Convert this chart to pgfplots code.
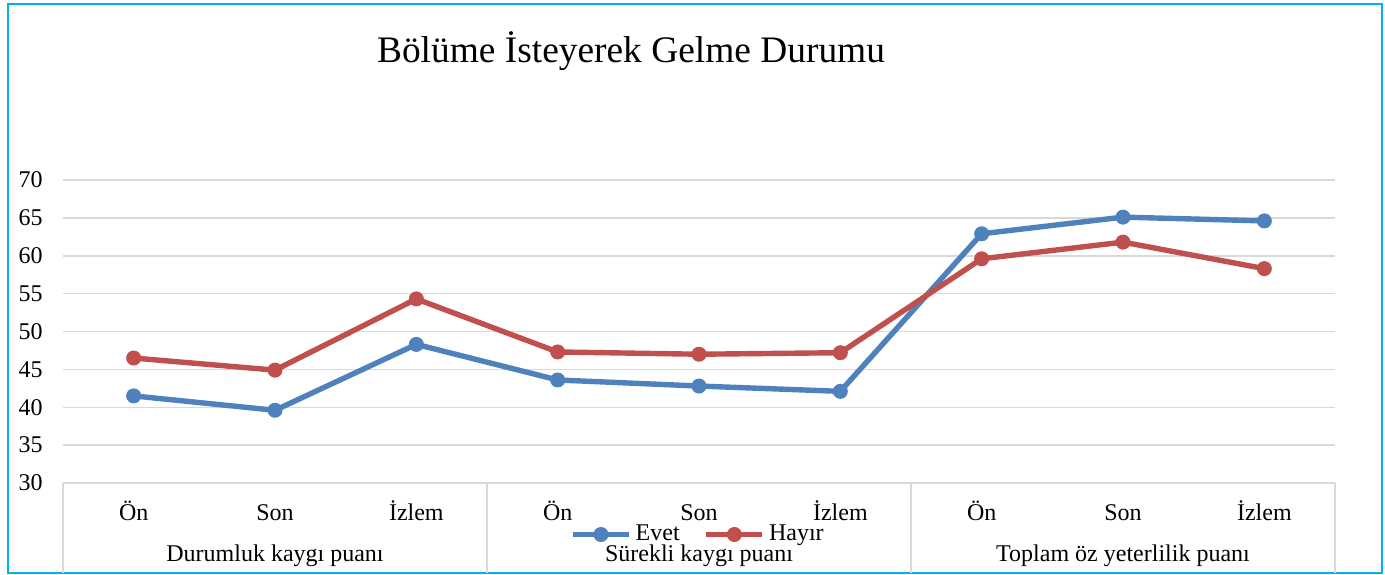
\documentclass[border=0pt]{standalone}
\usepackage{fontspec}
\setmainfont{Liberation Serif}
\usepackage{pgfplots}
\pgfplotsset{compat=1.18}
\definecolor{evet}{HTML}{4F81BD}
\definecolor{hayir}{HTML}{C0504D}
\definecolor{framec}{HTML}{00B0F0}
\definecolor{gridc}{HTML}{D9D9D9}
\begin{document}
\begin{tikzpicture}
\useasboundingbox (0,0) rectangle (692.5pt,287pt);
\draw[framec, line width=1pt] (4pt,0.75pt) rectangle (691pt,285pt);
\node[anchor=base, font=\fontsize{18.7}{21}\selectfont, inner sep=0pt] at (315.5pt,255.5pt) {Bölüme İsteyerek Gelme Durumu};
\begin{axis}[
  at={(31.5pt,45.5pt)}, anchor=south west,
  width=636pt, height=151.5pt, scale only axis,
  xmin=0.5, xmax=9.5, ymin=30, ymax=70,
  ytick={30,35,...,70},
  xtick={1,...,9},
  xticklabels={Ön,Son,İzlem,Ön,Son,İzlem,Ön,Son,İzlem},
  axis line style={draw=none},
  major tick length=0pt,
  ymajorgrids,
  grid style={gridc, line width=0.75pt},
  tick label style={font=\fontsize{12}{14}\selectfont},
  /pgf/number format/assume math mode=true,
  yticklabel style={anchor=east, inner sep=0pt, xshift=-10pt},
  xticklabel style={anchor=base, inner sep=0pt, yshift=-18.5pt},
  clip=false,
  legend columns=2,
  legend style={at={(0.5,-0.17)}, anchor=center, draw=none, fill=none,
    font=\fontsize{12}{14}\selectfont,
    /tikz/every even column/.append style={column sep=10pt}},
  legend image code/.code={\draw[mark repeat=2,mark phase=2,#1] plot coordinates {(0pt,0pt) (14pt,0pt) (28pt,0pt)};},
]
\draw[gridc, line width=0.75pt] (axis cs:0.5,30) -- ([yshift=-45pt]axis cs:0.5,30);
\draw[gridc, line width=0.75pt] (axis cs:3.5,30) -- ([yshift=-45pt]axis cs:3.5,30);
\draw[gridc, line width=0.75pt] (axis cs:6.5,30) -- ([yshift=-45pt]axis cs:6.5,30);
\draw[gridc, line width=0.75pt] (axis cs:9.5,30) -- ([yshift=-45pt]axis cs:9.5,30);
\addplot[evet, line width=2.7pt, line join=round, mark=*, mark size=3.5pt, mark options={solid, line width=0.5pt, fill=evet}]
  coordinates {(1,41.5)(2,39.6)(3,48.3)(4,43.6)(5,42.8)(6,42.1)(7,62.9)(8,65.1)(9,64.6)};
\addlegendentry{Evet}
\addplot[hayir, line width=2.7pt, line join=round, mark=*, mark size=3.5pt, mark options={solid, line width=0.5pt, fill=hayir}]
  coordinates {(1,46.5)(2,44.9)(3,54.3)(4,47.3)(5,47.0)(6,47.2)(7,59.6)(8,61.8)(9,58.3)};
\addlegendentry{Hayır}
\node[anchor=base, font=\fontsize{12}{14}\selectfont, inner sep=0pt, yshift=-39pt] at (axis cs:2,30) {Durumluk kaygı puanı};
\node[anchor=base, font=\fontsize{12}{14}\selectfont, inner sep=0pt, yshift=-39pt] at (axis cs:5,30) {Sürekli kaygı puanı};
\node[anchor=base, font=\fontsize{12}{14}\selectfont, inner sep=0pt, yshift=-39pt] at (axis cs:8,30) {Toplam öz yeterlilik puanı};
\end{axis}
\end{tikzpicture}
\end{document}
